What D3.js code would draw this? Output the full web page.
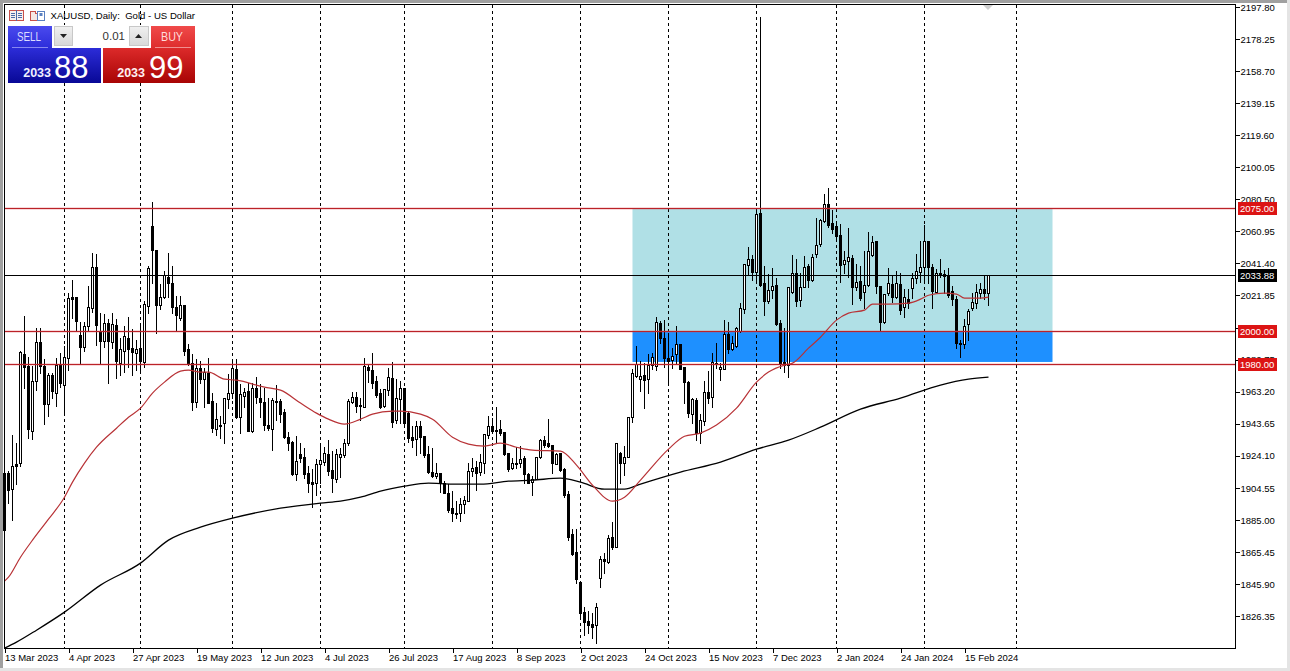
<!DOCTYPE html>
<html>
<head>
<meta charset="utf-8">
<title>XAUUSD Daily</title>
<script src="https://cdn.jsdelivr.net/npm/d3@7"></script>
<style>
    html, body { margin: 0; padding: 0; background: #fff; overflow: hidden; }
    svg text { font-family: "Liberation Sans", Arial, sans-serif; }
    .axis text { font-size: 9.5px; fill: #000; }
    .axis path { display: none; }
    .axis line { stroke: #000; shape-rendering: crispEdges; }
</style>
</head>
<body>
<svg id="chart" width="1290" height="671"></svg>
<script>
// OHLC, one entry per daily bar
const opens = [
    1913.5,1913.5,1903.7,1919,1919.6,1986.1,1978.7,1939.1,1969.6,1993.4,
    1978.7,1955.6,1973.3,1962.3,1979.4,1967.2,1983.6,2020.8,2020.8,1997.7,
    1990.3,2003.1,2014.1,2039.1,1999.5,1994,2005,1993.4,2003.8,1980.6,
    1987.9,1995.8,1989.7,1986.7,1989.7,1981.2,2015.3,2064.1,2049.5,2016,
    2020.8,2033,2029.4,2014.7,2008,2016,1989.1,1980.6,1956.8,1977.5,
    1970.8,1974.5,1957.4,1940.3,1942.8,1944,1958.6,1962.3,1976.9,1947.6,
    1960.4,1963.5,1939.1,1965.3,1959.2,1956.8,1942.8,1940.3,1957.4,1957.4,
    1950.7,1935.4,1932.4,1912.9,1925.1,1923.2,1913.5,1908,1907.4,1919,
    1920.2,1925.1,1915.3,1909.8,1923.2,1924.5,1931.8,1956.8,1959.8,1954.3,
    1953.7,1978.1,1976.3,1969.6,1962.3,1954.3,1964.1,1971.4,1945.8,1958.6,
    1965.3,1950.1,1935.4,1934.2,1942.1,1936,1925.1,1914.1,1911.6,1913.5,
    1907.4,1901.3,1892.1,1889.1,1889.1,1894.6,1896.4,1914.7,1917.1,1914.1,
    1919.6,1936.7,1942.1,1939.7,1940.3,1938.5,1925.7,1916.5,1919.6,1919.6,
    1922.6,1912.9,1908,1909.8,1923.2,1933.6,1931.8,1930.6,1919,1925.7,
    1915.9,1900.6,1876.3,1865.3,1847,1828.7,1823.2,1821.4,1820.8,1849.4,
    1861,1859.2,1874.4,1868.3,1925.7,1919.6,1923.2,1947.6,1972.6,1970.8,
    1973.3,1970.8,1979.4,1978.7,2005,1995.8,1983.6,1982.4,1986.1,1992.2,
    1978.1,1969,1949.5,1958,1937.9,1945.2,1962.9,1959.8,1980.6,1976.9,
    1976.9,1998.3,1989.1,1990.9,2000.1,2013.5,2040.4,2044,2036.1,2072.1,
    2029.4,2018.4,2025.1,2028.2,2005,1981.2,1979.4,2023.9,2035.5,2019,
    2026.9,2039.7,2031.2,2047.1,2053.2,2067.2,2077.6,2066,2064.1,2058.7,
    2041,2042.8,2044.6,2026.9,2030.6,2023.9,2028.2,2046.5,2055,2027.5,
    2005.6,2023.3,2028.8,2020.8,2028.8,2014.7,2019.6,2026.3,2032.4,2036.1,
    2039.1,2055,2039.1,2023.9,2035.5,2034.9,2034.3,2024.5,2019.6,1992.8,
    1992.2,2004.4,2014.1,2017.2,2023.3,2025.7,2023.3];
const highs = [
    1933.6,1915.3,1937.3,1932.4,1988.5,2009.9,1984.8,1979.4,2002.5,2002.5,
    1983.6,1975.1,1975.1,1984.2,1987.3,1991.6,2023.9,2031.8,2020.8,2006.2,
    2006.2,2028.2,2048.3,2047.7,2011.7,2011.1,2008,2011.7,2008,1996.4,
    2003.8,2009.2,2001.9,1995.2,2005.6,2019,2040.4,2079.4,2049.5,2029.4,
    2037.3,2048.3,2040.4,2022,2022,2016,1992.8,1986.7,1983.6,1982.4,
    1978.1,1984.2,1962.9,1956.8,1948.9,1959.8,1974.5,1983.6,1983.6,1968.4,
    1965.9,1969,1969,1972.6,1968.4,1965.9,1959.8,1959.8,1967.8,1959.2,
    1953.1,1939.1,1933.6,1936.7,1932.4,1929.3,1918.4,1916.5,1922.6,1932.4,
    1929.9,1934.2,1927.5,1928.7,1929.3,1934.8,1959.2,1963.5,1963.5,1959.8,
    1984.2,1980.6,1987.3,1973.3,1965.3,1965.3,1978.1,1981.8,1971.4,1970.2,
    1965.3,1951.9,1942.8,1945.8,1945.8,1936.7,1930.6,1929.3,1920.2,1914.1,
    1909.2,1907.4,1903.1,1897,1898.8,1900,1920.2,1923.2,1921.4,1925.7,
    1937.9,1948.9,1947.6,1954.3,1946.4,1938.5,1926.3,1923.2,1929.9,1930.6,
    1924.5,1914.1,1912.3,1923.8,1934.8,1936.7,1947,1931.2,1926.3,1926.3,
    1917.1,1903.1,1879.9,1879.9,1847,1832.3,1829.9,1828.7,1834.8,1863.4,
    1865.3,1876.3,1884.2,1932.4,1926.9,1930.6,1947.6,1977.5,1991.6,1982.4,
    1981.2,1986.7,1987.3,2009.2,2006.8,2007.4,1999.5,1990.3,2003.8,1992.8,
    1978.1,1970.2,1959.8,1959.8,1950.1,1970.2,1976.3,1987.3,1993.4,1981.2,
    2007.4,2006.2,1997.7,2003.1,2017.8,2041.6,2052,2047.1,2075.1,2192.2,
    2040.4,2035.5,2039.1,2033,2007.4,2002.5,2026.9,2047.1,2044.6,2036.1,
    2046.5,2041.6,2047.7,2069.6,2069,2084.3,2087.9,2074.5,2067.2,2066,
    2049.5,2063.5,2047.1,2041.6,2040.4,2049.5,2061.1,2058.7,2055,2028.2,
    2023.3,2039.1,2034.3,2037.3,2036.1,2026.3,2026.3,2036.1,2047.7,2055.6,
    2065.4,2055.6,2041.6,2038.5,2044.6,2037.9,2039.1,2028.2,2022,1995.2,
    2008,2014.1,2023.9,2029.4,2030,2034.9,2034.3];
const lows = [
    1877.5,1895.2,1884.8,1906.8,1917.7,1965.3,1934.8,1934.2,1964.1,1974.5,
    1943.4,1948.2,1959.2,1954.3,1965.9,1948.9,1976.3,2008,2000.7,1980.6,
    1987.9,2000.7,2011.7,1991.6,1980.6,1990.3,1968.4,1989.7,1971.4,1973.3,
    1975.1,1978.1,1973.3,1976.3,1974.5,1978.1,2011.1,2029.4,1998.9,2013.5,
    2020.2,2020.8,2011.1,2000.1,2006.8,1985.5,1979.4,1951.9,1953.7,1968.4,
    1953.7,1956.2,1938.5,1936.7,1934.8,1931.8,1953.1,1959.2,1947,1937.9,
    1953.7,1939.1,1938.5,1956.2,1947.6,1939.7,1939.7,1927.5,1945.8,1944.6,
    1934.8,1927.5,1912.3,1909.2,1920.2,1910.4,1901.9,1892.7,1900,1907.4,
    1918.4,1912.3,1901.9,1908,1911,1923.2,1930.6,1956.2,1950.7,1945.8,
    1953.7,1969,1965.3,1959.8,1953.1,1953.7,1961.1,1941.5,1944,1944,
    1941.5,1932.4,1929.3,1924.5,1925.7,1923.2,1913.5,1911,1910.4,1901.9,
    1901.3,1889.7,1884.2,1886,1884.2,1889.1,1896.4,1911.6,1903.1,1912.3,
    1913.5,1934.8,1938.5,1931.8,1936.7,1924.5,1914.7,1915.9,1916.5,1917.1,
    1907.4,1907.4,1900,1909.8,1922.6,1929.3,1929.3,1913.5,1919,1914.7,
    1898.8,1872.6,1863.4,1846.4,1825,1814.7,1815.9,1812.8,1809.8,1843.9,
    1852.5,1858.6,1867.1,1868.3,1907.4,1912.3,1923.2,1944.6,1972,1963.5,
    1953.1,1962.3,1976.9,1976.3,1992.8,1978.1,1967.8,1977.5,1980.6,1976.9,
    1956.2,1947.6,1944,1933.6,1931.8,1942.8,1956.2,1953.7,1977.5,1970.2,
    1976.9,1986.7,1988.5,1990.3,1999.5,2011.1,2034.3,2031.2,2029.4,2027.5,
    2009.9,2017.2,2020.2,2003.8,1977.5,1975.1,1972,2023.3,2015.3,2015.3,
    2026.9,2026.9,2030.6,2045.2,2052,2066.6,2063.5,2059.9,2055.6,2030,
    2035.5,2033,2016.6,2025.1,2019,2014.1,2027.5,2045.8,2023.3,2000.7,
    2005,2022,2017.8,2020.2,2010.5,2008.6,2014.1,2020.2,2029.4,2030,
    2029.4,2029.4,2014.1,2023.3,2033,2023.3,2020.8,2016,1989.7,1984.2,
    1989.7,1994.6,2012.9,2014.1,2020.2,2019.6,2016];
const closes = [
    1878.7,1903.1,1917.7,1917.7,1987.3,1978.1,1940.3,1969.6,1993.4,1978.7,
    1955.6,1973.3,1963.5,1979.4,1968.4,1984.2,2020.2,2019.6,2006.2,1990.3,
    2003.1,2014.7,2039.1,2003.8,1994,2005,1994,2004.4,1981.8,1989.1,
    1997,1989.1,1987.3,1989.1,1981.8,2016.6,2038.5,2049.5,2016,2020.8,
    2034.3,2029.4,2014.7,2009.9,2016,1987.9,1980.6,1956.8,1977.5,1970.8,
    1975.1,1956.2,1940.9,1946.4,1942.1,1959.2,1962.3,1977.5,1947.6,1961.7,
    1962.9,1939.1,1965.3,1959.8,1956.8,1942.8,1940.9,1958,1956.8,1949.5,
    1935.4,1931.8,1912.9,1920.8,1922.6,1912.9,1907.4,1906.8,1919,1921.4,
    1925.7,1914.7,1910.4,1925.1,1925.1,1931.8,1957.4,1959.8,1954.3,1954.9,
    1978.7,1976.3,1968.4,1961.1,1953.7,1964.7,1972,1944.6,1959.2,1965.3,
    1944,1934.8,1933.6,1942.1,1935.4,1924.5,1914.1,1911.6,1913.5,1907.4,
    1901.3,1890.9,1889.1,1888.5,1894.6,1897,1914.7,1916.5,1913.5,1920.2,
    1937.3,1942.1,1939.1,1939.1,1937.9,1925.1,1915.9,1919.6,1919,1922,
    1912.9,1907.4,1909.8,1923.2,1933.6,1930.6,1929.9,1919.6,1925.1,1915.3,
    1900,1874.4,1864,1848.8,1828.1,1822.6,1820.8,1819.5,1831.7,1861,
    1859.8,1873.8,1868.3,1931.8,1919.6,1923.2,1947.6,1974.5,1980,1972.6,
    1970.2,1979.4,1984.2,2005.6,1995.8,1983.6,1981.8,1984.8,1992.2,1976.9,
    1969,1950.1,1958.6,1937.9,1945.8,1962.9,1959.2,1981.2,1980,1978.1,
    1998.3,1989.1,1992.8,2001.9,2014.1,2041,2044,2036.1,2071.5,2028.2,
    2018.4,2025.1,2027.5,2004.4,1980.6,1979.4,2026.9,2035.5,2018.4,2026.9,
    2039.1,2031.2,2045.2,2052.6,2067.8,2077.6,2064.8,2062.3,2058,2040.4,
    2043.4,2045.2,2026.9,2030,2020.2,2028.2,2048.9,2054.4,2027.5,2005.6,
    2022.7,2029.4,2020.8,2029.4,2012.9,2020.8,2017.2,2032.4,2036.7,2039.1,
    2055,2039.1,2024.5,2035.5,2034.3,2033.6,2022,2019.6,1992.8,1992.2,
    2003.1,2012.3,2017.8,2023.9,2025.7,2023.3,2033.88];

// moving averages, sampled by bar index where the curve was read
const redMaIdx = [0,1,4,7,11,15,17,20,23,28,31,34,37,40,44,46,49,51,55,58,65,69,74,78,81,85,89,92,97,99,104,107,112,116,120,124,128,132,139,143,147,152,155,159,166,170,174,178,183,188,191,195,197,201,204,208,211,215,217,221,226,229,231,235,238,240,244,246];
const redMaVal = [1847.6,1850,1862.2,1872.6,1885.4,1898.8,1908,1919.6,1929.3,1940.9,1947.6,1953.1,1962.3,1969,1975.7,1976.3,1975.1,1975.1,1970.8,1970.2,1965.9,1964.1,1956.2,1950.1,1946.4,1943.4,1946.4,1949.5,1951.3,1951.3,1949.5,1946.4,1935.4,1931.2,1930,1931.8,1929.3,1927.5,1926.9,1918.4,1906.2,1896.4,1898.8,1909.2,1928.1,1936,1937.9,1942.8,1953.1,1969,1975.1,1979.4,1980.6,1989.7,1996.4,2006.8,2011.1,2012.9,2016.6,2016.6,2017.2,2019.6,2022,2023.3,2022.7,2020.2,2020.2,2020.8];
const blackMaIdx = [0,3,8,15,24,34,41,49,57,69,79,84,89,94,100,106,112,119,126,132,139,144,150,155,159,169,179,188,196,204,214,224,234,241,246];
const blackMaVal = [1806.7,1810.4,1817.7,1828.7,1845.2,1858.6,1872.6,1880.5,1886,1892.1,1895.2,1896.4,1898.8,1902.5,1905.5,1907.4,1906.8,1906.8,1908.6,1909.2,1910.4,1908,1903.7,1903.7,1906.8,1914.1,1920.2,1928.1,1933.6,1941.5,1952.5,1959.2,1967.2,1970.8,1972];

const priceTicks = [2197.80,2178.25,2158.70,2139.15,2119.60,2100.05,2080.50,2060.95,2041.40,2021.85,2002.30,1982.75,1963.20,1943.65,1924.10,1904.55,1885.00,1865.45,1845.90,1826.35];
const dateIdx = [0,16,32,48,64,80,96,112,128,144,160,176,192,208,224,240];
const dateLabels = ["13 Mar 2023","4 Apr 2023","27 Apr 2023","19 May 2023","12 Jun 2023","4 Jul 2023","26 Jul 2023","17 Aug 2023","8 Sep 2023","2 Oct 2023","24 Oct 2023","15 Nov 2023","7 Dec 2023","2 Jan 2024","24 Jan 2024","15 Feb 2024"];
// first bar of each month, where the period separators sit
const monthIdx = [15,34,57,79,100,122,144,166,188,208,230,253];

const levels = [2075, 2000, 1980];
const lastPrice = 2033.88;
const zoneStart = 157, zoneEnd = 262;
const zoneUpper = [2075, 2000];
const zoneLower = [2000, 1981.3];

const left = 4.5, right = 1235.5, top_ = 4.5, bottom = 648.5;

let x = d3.scaleLinear().domain([0, 1]).range([4.5, 8.5]);
let y = d3.scaleLinear().domain([1826.35, 2197.80]).range([616, 7]);
let crisp = v => Math.round(v - 0.5) + 0.5;

const svg = d3.select("#chart");
let defs = svg.append("defs");

function gradient(id, from, to) {
    let g = defs.append("linearGradient").attr("id", id)
        .attr("x1", 0).attr("y1", 0).attr("x2", 0).attr("y2", 1);
    g.append("stop").attr("offset", "0%").attr("stop-color", from);
    g.append("stop").attr("offset", "100%").attr("stop-color", to);
}
gradient("sellTab", "#4a4aee", "#2a2ad8");
gradient("sellBody", "#2c2cd8", "#080896");
gradient("buyTab", "#f04a4a", "#dc2a2a");
gradient("buyBody", "#dc2a2a", "#a80404");
gradient("btnGrey", "#f0f0f0", "#d8d8d8");

// window chrome
svg.append("rect").attr("width", 1290).attr("height", 671).attr("fill", "#fff");
svg.append("rect").attr("x", 0).attr("y", 0).attr("width", 1290).attr("height", 3).attr("fill", "#a0a0a0");
svg.append("rect").attr("x", 0).attr("y", 0).attr("width", 3).attr("height", 671).attr("fill", "#a0a0a0");
svg.append("rect").attr("x", 0).attr("y", 668).attr("width", 1290).attr("height", 3).attr("fill", "#e4e4e4");
svg.append("rect").attr("x", 1287).attr("y", 0).attr("width", 3).attr("height", 671).attr("fill", "#e4e4e4");

// rectangles behind the price
svg.append("rect")
    .attr("x", x(zoneStart)).attr("width", x(zoneEnd) - x(zoneStart))
    .attr("y", y(zoneUpper[0])).attr("height", y(zoneUpper[1]) - y(zoneUpper[0]))
    .attr("fill", "#b0e0e6");
svg.append("rect")
    .attr("x", x(zoneStart)).attr("width", x(zoneEnd) - x(zoneStart))
    .attr("y", y(zoneLower[0])).attr("height", y(zoneLower[1]) - y(zoneLower[0]))
    .attr("fill", "#1e90ff");

// month separators
svg.append("g").selectAll("line").data(monthIdx).enter().append("line")
    .attr("x1", d => x(d)).attr("x2", d => x(d))
    .attr("y1", top_).attr("y2", bottom)
    .attr("stroke", "#000").attr("stroke-dasharray", "3,3")
    .attr("shape-rendering", "crispEdges");

// candles
let candles = svg.append("g").selectAll("g").data(opens).enter().append("g");
candles.append("line")
    .attr("x1", (d, i) => x(i)).attr("x2", (d, i) => x(i))
    .attr("y1", (d, i) => crisp(y(highs[i]))).attr("y2", (d, i) => crisp(y(lows[i])))
    .attr("stroke", "#000").attr("shape-rendering", "crispEdges");
candles.append("rect")
    .attr("x", (d, i) => x(i) - 1).attr("width", 2)
    .attr("y", (d, i) => crisp(y(Math.max(opens[i], closes[i]))))
    .attr("height", (d, i) => Math.max(1, crisp(y(Math.min(opens[i], closes[i]))) - crisp(y(Math.max(opens[i], closes[i])))))
    .attr("fill", (d, i) => closes[i] >= opens[i] ? "#fff" : "#000")
    .attr("stroke", "#000").attr("shape-rendering", "crispEdges");

// moving averages
let line = d3.line().x(d => x(d[0])).y(d => y(d[1])).curve(d3.curveMonotoneX);
svg.append("path").datum(d3.zip(blackMaIdx, blackMaVal))
    .attr("d", line).attr("fill", "none").attr("stroke", "#000").attr("stroke-width", 1.3);
svg.append("path").datum(d3.zip(redMaIdx, redMaVal))
    .attr("d", line).attr("fill", "none").attr("stroke", "#b83236").attr("stroke-width", 1.2);

// horizontal levels, with the faint halo the reference has around them
svg.append("g").selectAll("line").data(levels).enter().append("line")
    .attr("x1", left).attr("x2", right)
    .attr("y1", d => crisp(y(d))).attr("y2", d => crisp(y(d)))
    .attr("stroke", "#d8404a").attr("stroke-opacity", 0.2).attr("stroke-width", 3);
svg.append("g").selectAll("line").data(levels).enter().append("line")
    .attr("x1", left).attr("x2", right)
    .attr("y1", d => crisp(y(d))).attr("y2", d => crisp(y(d)))
    .attr("stroke", "#bb2228").attr("shape-rendering", "crispEdges");
svg.append("line")
    .attr("x1", left).attr("x2", right)
    .attr("y1", crisp(y(lastPrice))).attr("y2", crisp(y(lastPrice)))
    .attr("stroke", "#000").attr("shape-rendering", "crispEdges");

// frame
svg.append("rect")
    .attr("x", left).attr("y", top_)
    .attr("width", right - left).attr("height", bottom - top_)
    .attr("fill", "none").attr("stroke", "#000").attr("shape-rendering", "crispEdges");

// axes
let yAxis = d3.axisRight(y).tickValues(priceTicks).tickSize(4).tickPadding(1).tickFormat(d3.format(".2f"));
let yG = svg.append("g").attr("class", "axis").attr("transform", "translate(" + right + ",0)").call(yAxis);
yG.selectAll("text").attr("dy", "0.34em");

let xAxis = d3.axisBottom(x).tickValues(dateIdx).tickSize(4).tickPadding(2).tickFormat((d, i) => dateLabels[i]);
let xG = svg.append("g").attr("class", "axis").attr("transform", "translate(0," + bottom + ")").call(xAxis);
xG.selectAll("text").attr("text-anchor", "start").attr("x", 0);

// price tags on the scale
function priceTag(value, fill) {
    let py = crisp(y(value));
    svg.append("rect")
        .attr("x", 1238).attr("y", py - 6.5).attr("width", 39).attr("height", 13).attr("fill", fill);
    svg.append("text")
        .attr("x", 1240).attr("y", py + 3.5)
        .attr("font-size", "9.5px").attr("fill", "#fff")
        .text(d3.format(".2f")(value));
}
levels.forEach(d => priceTag(d, "#dc1414"));
priceTag(lastPrice, "#000");

// small marker at the top of the chart above the last bar
svg.append("path").attr("d", "M983,5 L993,5 L988,10 Z").attr("fill", "#cfcfcf");

// title with its two icons
let iconStroke = "#c8504a";
svg.append("rect").attr("x", 9.5).attr("y", 10.5).attr("width", 14).attr("height", 10)
    .attr("fill", "#f6f0ee").attr("stroke", iconStroke).attr("shape-rendering", "crispEdges");
svg.append("path").attr("d", "M16.5,10 V21 M11,13.5 H15 M18,13.5 H22 M11,15.5 H15 M18,15.5 H22 M11,17.5 H15 M18,17.5 H22")
    .attr("stroke", "#4a6aa8").attr("fill", "none").attr("shape-rendering", "crispEdges");
svg.append("path").attr("d", "M30.5,11.5 H35.5 V13.5 L37.5,13.5 V20.5 H30.5 Z")
    .attr("fill", "#f6e8e4").attr("stroke", iconStroke).attr("shape-rendering", "crispEdges");
svg.append("path").attr("d", "M37.5,11.5 H44.5 V20.5 H37.5 Z")
    .attr("fill", "#fff").attr("stroke", "#5a80c0").attr("shape-rendering", "crispEdges");
svg.append("rect").attr("x", 39.5).attr("y", 13).attr("width", 3).attr("height", 3)
    .attr("fill", "#5a80c0");
svg.append("text").attr("x", 50.5).attr("y", 19)
    .attr("font-size", "9.6px").attr("fill", "#000").attr("xml:space", "preserve")
    .text("XAUUSD, Daily:  Gold - US Dollar");

// one click trading panel
svg.append("rect").attr("x", 8).attr("y", 26).attr("width", 44).attr("height", 24).attr("fill", "url(#sellTab)");
svg.append("rect").attr("x", 8).attr("y", 48).attr("width", 93).attr("height", 35).attr("fill", "url(#sellBody)");
svg.append("rect").attr("x", 151).attr("y", 26).attr("width", 44).attr("height", 24).attr("fill", "url(#buyTab)");
svg.append("rect").attr("x", 103).attr("y", 48).attr("width", 92).attr("height", 35).attr("fill", "url(#buyBody)");
svg.append("line").attr("x1", 12).attr("x2", 48).attr("y1", 47.5).attr("y2", 47.5).attr("stroke", "#8888f0");
svg.append("line").attr("x1", 155).attr("x2", 191).attr("y1", 47.5).attr("y2", 47.5).attr("stroke", "#f09090");

svg.append("rect").attr("x", 52).attr("y", 25).attr("width", 99).attr("height", 23).attr("fill", "#fff");
svg.append("rect").attr("x", 54.5).attr("y", 26.5).attr("width", 18).attr("height", 19)
    .attr("fill", "url(#btnGrey)").attr("stroke", "#c8c8c8").attr("shape-rendering", "crispEdges");
svg.append("rect").attr("x", 129.5).attr("y", 26.5).attr("width", 19).attr("height", 19)
    .attr("fill", "url(#btnGrey)").attr("stroke", "#c8c8c8").attr("shape-rendering", "crispEdges");
svg.append("path").attr("d", "M60,34 L67,34 L63.5,38 Z").attr("fill", "#222");
svg.append("path").attr("d", "M135,38 L142,38 L138.5,34 Z").attr("fill", "#222");
svg.append("text").attr("x", 125).attr("y", 40).attr("text-anchor", "end")
    .attr("font-size", "11.5px").attr("fill", "#333").text("0.01");

svg.append("text").attr("x", 29).attr("y", 41).attr("text-anchor", "middle")
    .attr("font-size", "12px").attr("fill", "#dcdcff")
    .attr("textLength", 24).attr("lengthAdjust", "spacingAndGlyphs").text("SELL");
svg.append("text").attr("x", 172).attr("y", 41).attr("text-anchor", "middle")
    .attr("font-size", "12px").attr("fill", "#ffdcdc")
    .attr("textLength", 22).attr("lengthAdjust", "spacingAndGlyphs").text("BUY");

let priceBig = "2033";
svg.append("text").attr("x", 51).attr("y", 77).attr("text-anchor", "end")
    .attr("font-size", "12.5px").attr("font-weight", "bold").attr("fill", "#f0f0ff").text(priceBig);
svg.append("text").attr("x", 54).attr("y", 78)
    .attr("font-size", "31px").attr("fill", "#fff").text("88");
svg.append("text").attr("x", 145).attr("y", 77).attr("text-anchor", "end")
    .attr("font-size", "12.5px").attr("font-weight", "bold").attr("fill", "#fff0f0").text(priceBig);
svg.append("text").attr("x", 149).attr("y", 78)
    .attr("font-size", "31px").attr("fill", "#fff").text("99");
</script>
</body>
</html>
